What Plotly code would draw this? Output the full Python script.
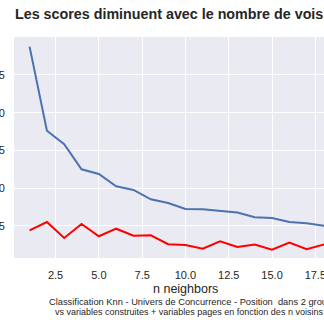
import plotly.graph_objects as go

n_neighbors = list(range(1, 20))
score_blue = [0.9875, 0.8762, 0.8582, 0.8251, 0.8189, 0.8026, 0.7977, 0.7854, 0.7805, 0.7725,
              0.7722, 0.7699, 0.7679, 0.7617, 0.7606, 0.7553, 0.7537, 0.7503, 0.7470]
score_red = [0.7443, 0.7553, 0.7341, 0.7526, 0.7364, 0.7464, 0.7372, 0.7377, 0.7258, 0.7248,
             0.7199, 0.7297, 0.7222, 0.7255, 0.7186, 0.7279, 0.7193, 0.7255, 0.7220]
y_ticks = [0.75, 0.80, 0.85, 0.90, 0.95]
x_ticks = [2.5, 5.0, 7.5, 10.0, 12.5, 15.0, 17.5]

title = "Les scores diminuent avec le nombre de voisins"
x_label = "n neighbors"
caption1 = "Classification Knn - Univers de Concurrence - Position  dans 2 groupes"
caption2 = "vs variables construites + variables pages en fonction des n voisins"

FONT = "Liberation Sans, Arial, sans-serif"
TXT = "#262626"

fig = go.Figure()
fig.add_trace(go.Scatter(x=n_neighbors, y=score_blue, mode="lines",
                         line=dict(color="#4c72b0", width=2), showlegend=False))
fig.add_trace(go.Scatter(x=n_neighbors, y=score_red, mode="lines",
                         line=dict(color="#ff0000", width=2), showlegend=False))

fig.update_layout(
    template="none",
    width=324, height=324,
    margin=dict(l=14, r=0, t=37, b=66, pad=0),
    paper_bgcolor="white",
    plot_bgcolor="#eaeaf2",
    font=dict(family=FONT, color=TXT, size=11),
    showlegend=False,
)
fig.update_xaxes(
    range=[0.1, 18.0], tickvals=x_ticks, ticktext=[f"{v:.1f}" for v in x_ticks],
    showgrid=True, gridcolor="white", gridwidth=1, zeroline=False, showline=False,
    ticks="", automargin=False, tickfont=dict(size=11, color=TXT),
    ticklabelstandoff=9, ticklabeloverflow="allow",
)
fig.update_yaxes(
    range=[0.7076, 1.0003], tickvals=y_ticks, ticktext=[f"{v:.2f}" for v in y_ticks],
    showgrid=True, gridcolor="white", gridwidth=1, zeroline=False, showline=False,
    ticks="", automargin=False, tickfont=dict(size=11, color=TXT),
    ticklabelstandoff=8, ticklabeloverflow="allow",
)

fig.add_annotation(text=f"<b>{title}</b>", xref="paper", yref="paper",
                   x=-1/310, y=1 + 23/221, xanchor="left", yanchor="middle",
                   showarrow=False, font=dict(size=14.3, color=TXT, family=FONT))
fig.add_annotation(text=x_label, xref="paper", yref="paper",
                   x=(185 - 14) / 310, y=-(289 - 258) / 221, xanchor="center", yanchor="middle",
                   showarrow=False, font=dict(size=12.5, color=TXT, family=FONT))
fig.add_annotation(text=caption1, xref="paper", yref="paper",
                   x=(47 - 14) / 310, y=-(301.5 - 258) / 221, xanchor="left", yanchor="middle",
                   showarrow=False, font=dict(size=9.3, color=TXT, family=FONT))
fig.add_annotation(text=caption2, xref="paper", yref="paper",
                   x=(53 - 14) / 310, y=-(311.7 - 258) / 221, xanchor="left", yanchor="middle",
                   showarrow=False, font=dict(size=9.0, color=TXT, family=FONT))

fig.write_html("out.html")
